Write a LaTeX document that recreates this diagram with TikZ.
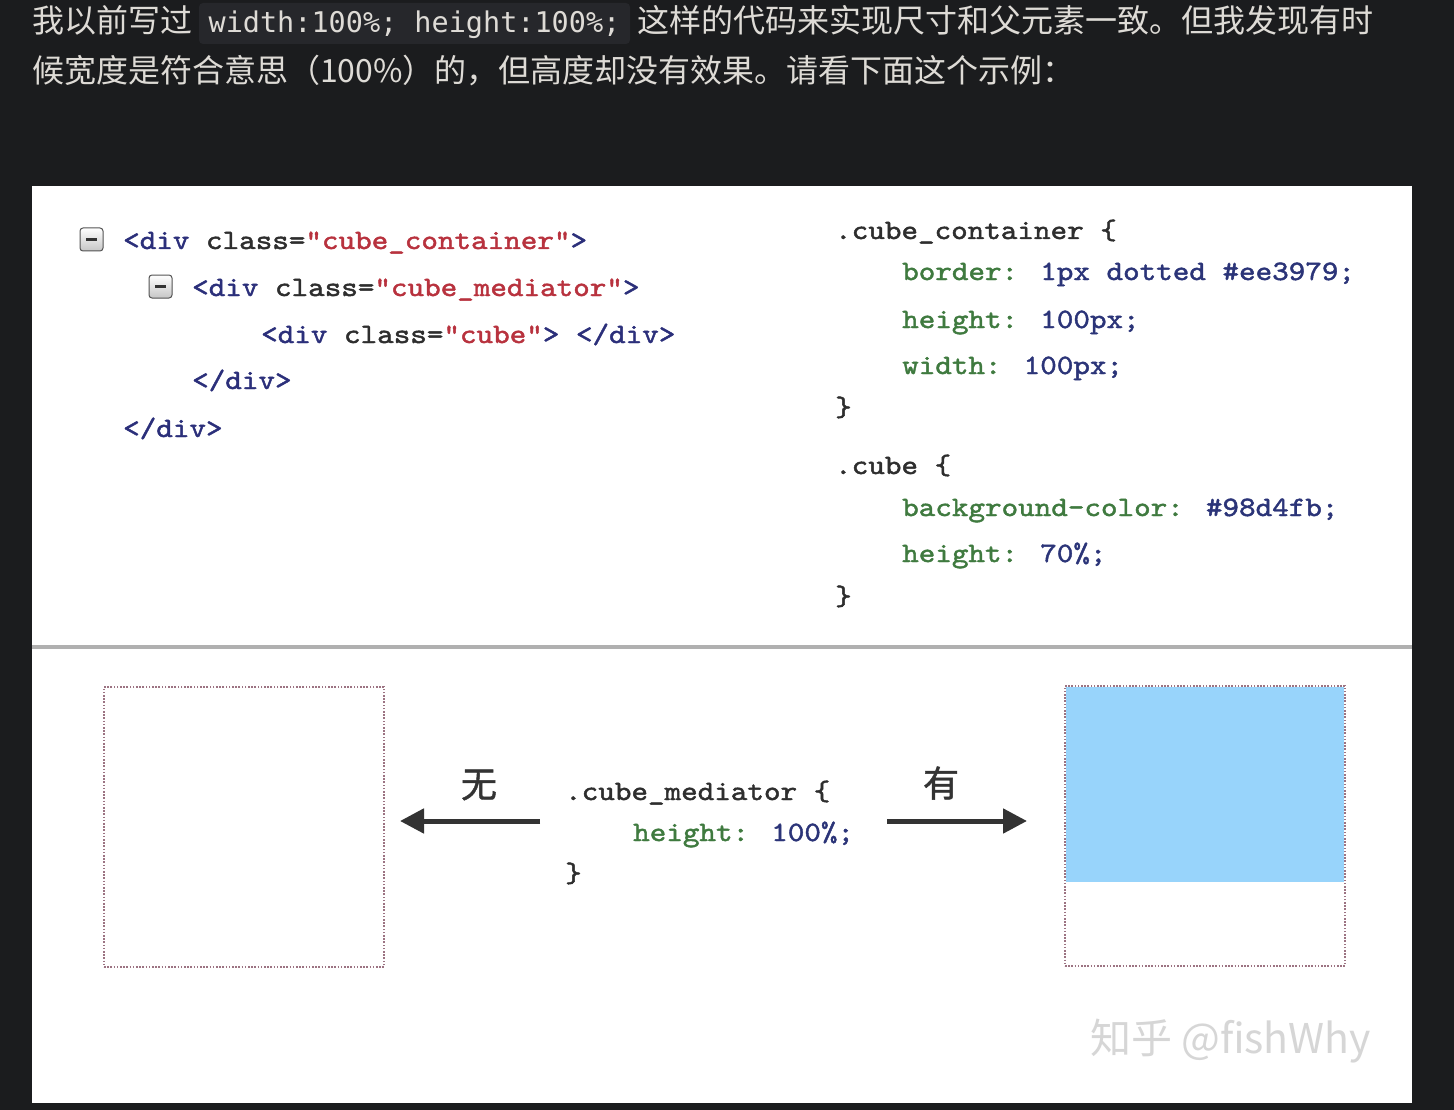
\documentclass[tikz,border=0pt]{standalone}
\usepackage{fontspec}
\usetikzlibrary{arrows.meta}
\newfontfamily\cjk{Noto Sans CJK SC}
\newfontfamily\cjkb[FakeBold=1.2]{Noto Sans CJK SC}
\newfontfamily\chipfont{DejaVu Sans Mono}
\newfontfamily\codefont[FakeBold=1.6,FakeStretch=1.127]{lmmono10-regular.otf}
\definecolor{bg}{HTML}{1B1C1E}
\definecolor{chipbg}{HTML}{26272B}
\definecolor{fg}{HTML}{DEDBD6}
\definecolor{tagc}{HTML}{2B2F7A}
\definecolor{attrc}{HTML}{2E2E2E}
\definecolor{strc}{HTML}{B8323E}
\definecolor{propc}{HTML}{3F7A3F}
\definecolor{valc}{HTML}{2B3478}
\definecolor{dotc}{HTML}{9C7382}
\definecolor{cubec}{HTML}{98D4FB}
\definecolor{arrc}{HTML}{333333}
\definecolor{wmc}{HTML}{D6D6D6}
\newcommand{\tg}[1]{\textcolor{tagc}{#1}}
\newcommand{\at}[1]{\textcolor{attrc}{#1}}
\newcommand{\st}[1]{\textcolor{strc}{#1}}
\newcommand{\pr}[1]{\textcolor{propc}{#1}}
\newcommand{\vl}[1]{\textcolor{valc}{#1}}
\tikzset{
  prose/.style={anchor=base west, inner sep=0pt, text=fg, font=\cjk\fontsize{32}{38}\selectfont},
  chipbox/.style={fill=chipbg, rounded corners=4pt, inner sep=0pt, text=fg,
    font=\chipfont\fontsize{28.5}{34}\selectfont, text height=23pt, text depth=5pt},
  codeline/.style={anchor=base west, inner sep=0pt, text=attrc, font=\codefont\fontsize{28}{33}\selectfont},
  label/.style={inner sep=0pt, text=arrc, font=\cjkb\fontsize{36}{40}\selectfont},
  dotbox/.style={draw=dotc, line width=2pt, dash pattern=on 1.6pt off 1.6pt},
  bigarrow/.style={draw=arrc, line width=5pt, -{Triangle[length=24pt,width=24pt]}},
  foldicon/.style={draw=gray!65!black, line width=1pt, rounded corners=3pt, top color=white, bottom color=gray!45, minimum size=23pt, inner sep=0pt}
}
\begin{document}
\begin{tikzpicture}[x=1pt,y=-1pt]
\useasboundingbox (0,0) rectangle (1454,1110);
\fill[bg] (0,0) rectangle (1454,1110);
% top prose
\node[prose] (p1) at (32,33) {我以前写过};
\node[chipbox, minimum width=431pt, minimum height=41pt] (chip) at (414.5,23.5) {width:100\%; height:100\%;};
\node[prose] (p2) at (637,33) {这样的代码来实现尺寸和父元素一致。但我发现有时};
\node[prose] (p3) at (32,83) {候宽度是符合意思（100\%）的，但高度却没有效果。请看下面这个示例：};
% panel
\fill[white] (32,186) rectangle (1412,1103);
\draw[gray!62, line width=3.5pt] (32,647) -- (1412,647);
% fold icons
\node[foldicon] (f1) at (91.5,239.5) {};
\draw[arrc, line width=2.4pt] ([xshift=-5.5pt]f1.center) -- ([xshift=5.5pt]f1.center);
\node[foldicon] (f2) at (160.5,286.5) {};
\draw[arrc, line width=2.4pt] ([xshift=-5.5pt]f2.center) -- ([xshift=5.5pt]f2.center);
% html
\node[codeline] (h1) at (123,249) {\tg{<div} \at{class=}\st{"cube\_container"}\tg{>}};
\node[codeline] (h2) at (192,296) {\tg{<div} \at{class=}\st{"cube\_mediator"}\tg{>}};
\node[codeline] (h3) at (261,343) {\tg{<div} \at{class=}\st{"cube"}\tg{>} \tg{</div>}};
\node[codeline] (h4) at (192,389) {\tg{</div>}};
\node[codeline] (h5) at (123,437) {\tg{</div>}};
% css
\node[codeline] (c1) at (835,239) {.cube\_container \{};
\node[codeline] (c2) at (902,280) {\pr{border:} \vl{1px dotted \#ee3979;}};
\node[codeline] (c3) at (902,328) {\pr{height:} \vl{100px;}};
\node[codeline] (c4) at (902,374) {\pr{width:} \vl{100px;}};
\node[codeline] (c5) at (835,416) {\}};
\node[codeline] (c6) at (835,474) {.cube \{};
\node[codeline] (c7) at (902,516) {\pr{background-color:} \vl{\#98d4fb;}};
\node[codeline] (c8) at (902,562) {\pr{height:} \vl{70\%;}};
\node[codeline] (c9) at (835,605) {\}};
% bottom demo
\node[dotbox, minimum width=280pt, minimum height=280pt, inner sep=0pt] (lbox) at (244,827) {};
\fill[cubec] (1066,687) rectangle (1344,882);
\node[dotbox, minimum width=280pt, minimum height=280pt, inner sep=0pt] (rbox) at (1205,826) {};
\node[codeline] (m1) at (565,800) {.cube\_mediator \{};
\node[codeline] (m2) at (633,841) {\pr{height:} \vl{100\%;}};
\node[codeline] (m3) at (565,882) {\}};
\node[label] (wu) at (479,785) {无};
\node[label] (you) at (941,783) {有};
\coordinate (la) at (540,821);
\coordinate (lt) at (400,821);
\coordinate (ra) at (887,821);
\coordinate (rt) at (1027,821);
\draw[bigarrow] (la) -- (lt);
\draw[bigarrow] (ra) -- (rt);
% watermark
\node[anchor=base west, inner sep=0pt, text=wmc, font=\cjk\fontsize{41}{44}\selectfont] (wm) at (1090,1053) {知乎 @fishWhy};
\end{tikzpicture}
\end{document}
